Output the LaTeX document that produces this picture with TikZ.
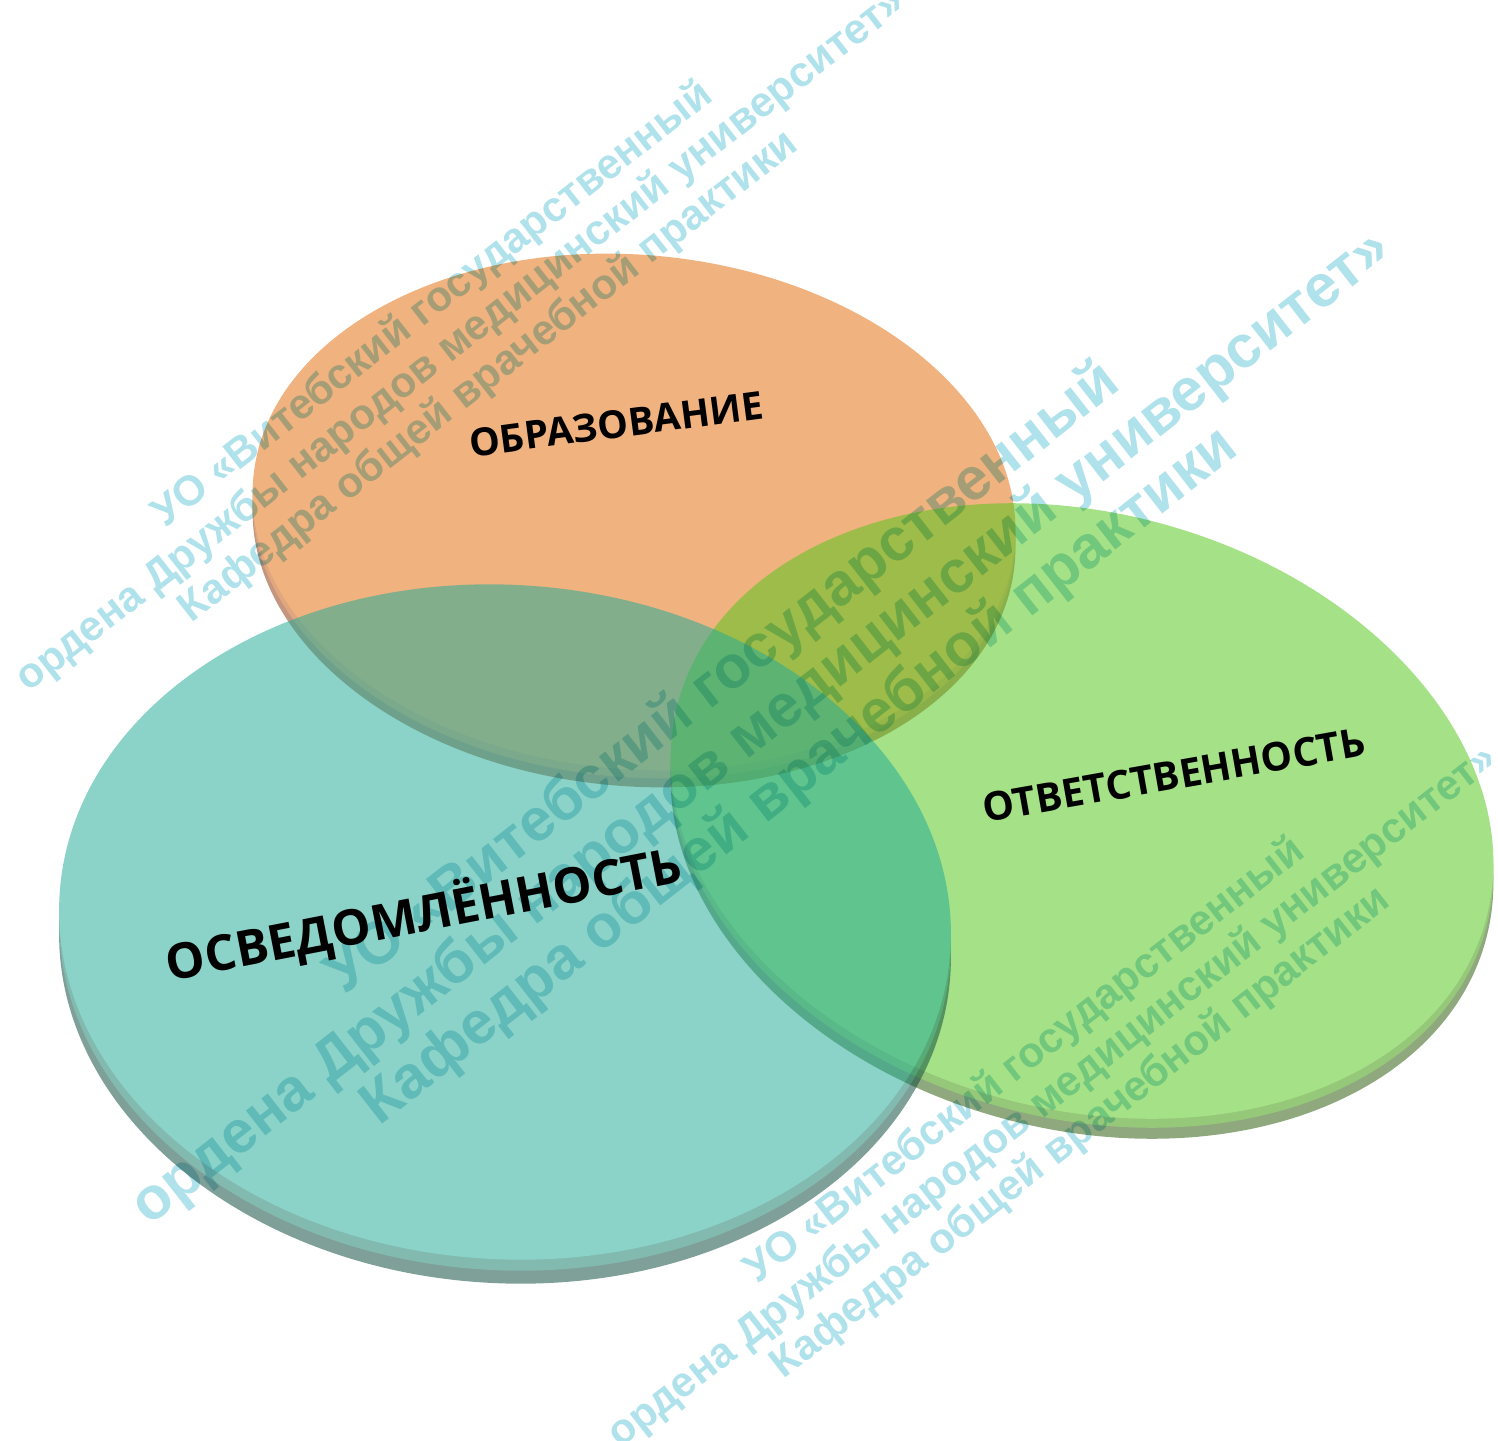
\documentclass[tikz,border=0pt]{standalone}
\usepackage{fontspec}
\setmainfont{Liberation Sans}
\newfontfamily\topicfont{Open Sans}
\usepackage{tikz}

\definecolor{orface}{RGB}{240,178,127}
\definecolor{orbevel}{RGB}{224,166,126}
\definecolor{orrim}{RGB}{196,150,128}
\definecolor{grface}{RGB}{85,198,27}
\definecolor{grbevel}{RGB}{57,151,4}
\definecolor{grrim}{RGB}{44,91,12}
\definecolor{tlface}{RGB}{35,172,151}
\definecolor{tlbevel}{RGB}{18,125,106}
\definecolor{tlrim}{RGB}{14,76,61}
\definecolor{stampblue}{RGB}{176,226,236}

\begin{document}
\begin{tikzpicture}[x=0.01cm, y=-0.01cm]
\tikzstyle{topic} = [font=\topicfont\bfseries, text=black, inner sep=0pt]
\tikzstyle{stamp} = [text=stampblue, align=center, inner sep=0pt, rotate=38]
\tikzstyle{disc} = [transparency group, opacity=0.53]

\useasboundingbox (0,0) rectangle (1498,1440);

% Discs: rim, bevel and face
\begin{scope}
  \fill[orrim, shift={(0,17)}, rotate around={-5:(634,512)}] (634,512) ellipse [x radius=3.82cm, y radius=2.57cm];
  \fill[orbevel, shift={(0,8)}, rotate around={-5:(634,512)}] (634,512) ellipse [x radius=3.82cm, y radius=2.57cm];
  \fill[orface, rotate around={-5:(634,512)}] (634,512) ellipse [x radius=3.82cm, y radius=2.57cm];
\end{scope}
\begin{scope}[disc]
  \fill[grrim, shift={(0,20)}, rotate around={-15:(1082,811)}] (1082,811) ellipse [x radius=4.18cm, y radius=2.98cm];
  \fill[grbevel, shift={(0,9)}, rotate around={-15:(1082,811)}] (1082,811) ellipse [x radius=4.18cm, y radius=2.98cm];
  \fill[grface, rotate around={-15:(1082,811)}] (1082,811) ellipse [x radius=4.18cm, y radius=2.98cm];
\end{scope}
\begin{scope}[disc]
  \fill[tlrim, shift={(0,24)}, rotate around={-3.5:(505,922)}] (505,922) ellipse [x radius=4.46cm, y radius=3.37cm];
  \fill[tlbevel, shift={(0,11)}, rotate around={-3.5:(505,922)}] (505,922) ellipse [x radius=4.46cm, y radius=3.37cm];
  \fill[tlface, rotate around={-3.5:(505,922)}] (505,922) ellipse [x radius=4.46cm, y radius=3.37cm];
\end{scope}

% Labels
\node (educ) [topic, font=\topicfont\bfseries\fontsize{11}{13}\selectfont, rotate=7.5] at (616,424) {ОБРАЗОВАНИЕ};
\node (aware) [topic, font=\topicfont\bfseries\fontsize{14}{16}\selectfont, rotate=11] at (424,914) {ОСВЕДОМЛЁННОСТЬ};
\node (resp) [topic, font=\topicfont\bfseries\fontsize{11.3}{13}\selectfont, rotate=10] at (1174,775) {ОТВЕТСТВЕННОСТЬ};

% Watermark
\begin{scope}[blend mode=multiply]
\node (markup) [stamp, font=\bfseries\fontsize{12}{13}\selectfont] at (461,341) {УО «Витебский государственный\\ордена Дружбы народов медицинский университет»\\Кафедра общей врачебной практики};
\node (markmid) [stamp, font=\bfseries\fontsize{17}{17.6}\selectfont] at (762,728) {УО «Витебский государственный\\ордена Дружбы народов медицинский университет»\\Кафедра общей врачебной практики};
\node (marklow) [stamp, font=\bfseries\fontsize{12}{13}\selectfont] at (1053,1097) {УО «Витебский государственный\\ордена Дружбы народов медицинский университет»\\Кафедра общей врачебной практики};
\end{scope}

\end{tikzpicture}
\end{document}
